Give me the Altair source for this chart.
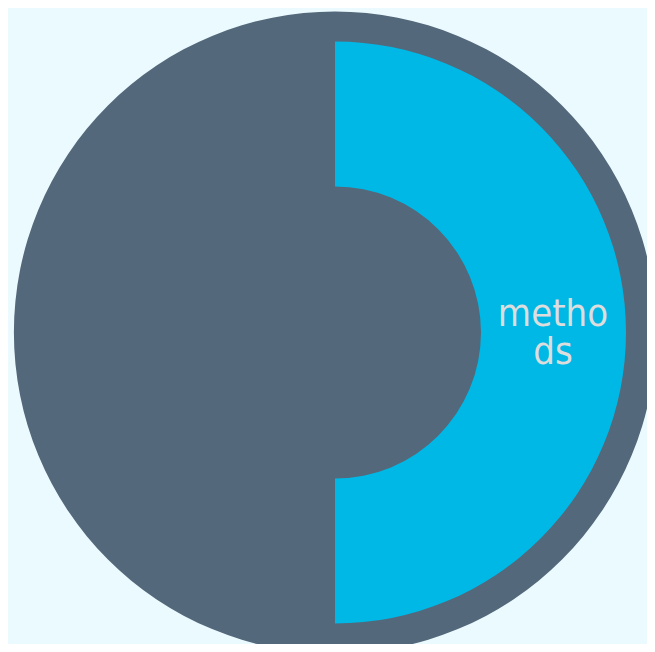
import math
import altair as alt
import pandas as pd

# Sunburst data: root node and its child
node_names = ["root", "methods"]
node_start = [0.0, 0.0]
node_end = [2.0, 1.0]
node_colors = ["#53687A", "#00B8E6"]
label_lines = ["metho", "ds"]

root_df = pd.DataFrame({"name": [node_names[0]], "t0": [node_start[0]], "t1": [node_end[0]]})
child_df = pd.DataFrame({"name": [node_names[1]], "t0": [node_start[1]], "t1": [node_end[1]]})
label_df = pd.DataFrame({
    "name": [node_names[1]],
    "mid": [(node_start[1] + node_end[1]) / 2],
    "label": ["\n".join(label_lines)],
})

theta_scale = alt.Scale(domain=[0, 2], range=[0, 2 * math.pi])
cx = alt.value(327)
cy = alt.value(324.5)

root = alt.Chart(root_df).mark_arc(innerRadius=0, outerRadius=321, color=node_colors[0]).encode(
    theta=alt.Theta("t0:Q", scale=theta_scale),
    theta2="t1:Q",
    x=cx, y=cy,
)

child = alt.Chart(child_df).mark_arc(innerRadius=146, outerRadius=291, color=node_colors[1]).encode(
    theta=alt.Theta("t0:Q", scale=theta_scale),
    theta2="t1:Q",
    x=cx, y=cy,
)

label = alt.Chart(label_df).mark_text(
    font="DejaVu Sans Condensed", fontSize=38, color="#DDDDDD", lineBreak="\n",
    lineHeight=38, align="center", baseline="alphabetic", radius=218, dy=-6.5,
).encode(
    theta=alt.Theta("mid:Q", scale=theta_scale),
    text="label:N",
    x=cx, y=cy,
)

chart = alt.layer(root, child, label).properties(
    width=639, height=636,
    autosize=alt.AutoSizeParams(type="none"),
    padding=0,
    background="#EBFAFF",
).configure_view(stroke=None)

chart.save("out.html", embed_options={"renderer": "svg", "actions": False})
